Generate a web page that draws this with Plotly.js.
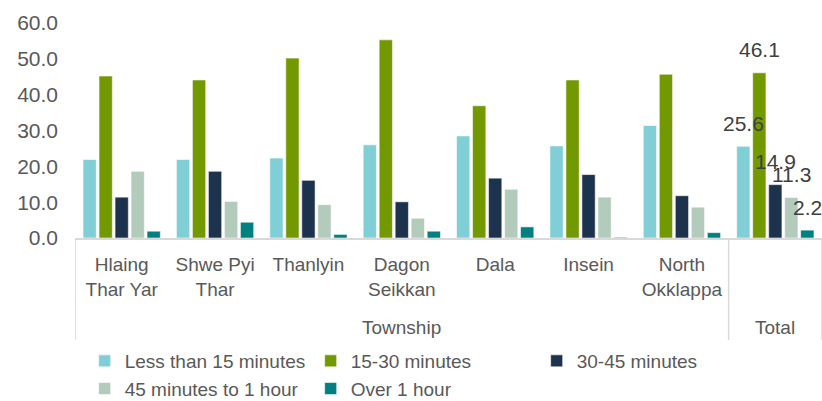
<!DOCTYPE html>
<html>
<head>
<meta charset="utf-8">
<script src="https://cdn.plot.ly/plotly-3.0.1.min.js"></script>
<style>
  html, body { margin: 0; padding: 0; background: #ffffff; }
  #chart { width: 822px; height: 401px; }
</style>
</head>
<body>
<div id="chart"></div>
<script>
// Travel time to work, share of respondents (%) by township
const categories = ["Hlaing Thar Yar", "Shwe Pyi Thar", "Thanlyin", "Dagon Seikkan", "Dala", "Insein", "North Okklappa", "Total"];
const tickLabels = ["Hlaing<br>Thar Yar", "Shwe Pyi<br>Thar", "Thanlyin", "Dagon<br>Seikkan", "Dala", "Insein", "North<br>Okklappa", ""];
const groups = ["Township", "Township", "Township", "Township", "Township", "Township", "Township", "Total"];

const seriesNames = ["Less than 15 minutes", "15-30 minutes", "30-45 minutes", "45 minutes to 1 hour", "Over 1 hour"];
const lessThan15 = [21.9, 21.9, 22.3, 26.0, 28.5, 25.7, 31.4, 25.6];
const from15to30 = [45.2, 44.1, 50.2, 55.3, 36.9, 44.1, 45.7, 46.1];
const from30to45 = [11.4, 18.6, 16.1, 10.1, 16.7, 17.7, 11.8, 14.9];
const from45to60 = [18.6, 10.2, 9.3, 5.5, 13.6, 11.4, 8.6, 11.3];
const over1hour  = [1.9, 4.4, 1.0, 1.9, 3.1, 0.2, 1.5, 2.2];
const seriesValues = [lessThan15, from15to30, from30to45, from45to60, over1hour];
const seriesColors = ["#80cfd6", "#739900", "#1d334d", "#b2cbbb", "#008080"];

const W = 822, H = 401;
const M = { l: 75, r: 0, t: 23, b: 163 };
const BARGAP = 0.143;
const plotW = W - M.l - M.r;
const plotH = H - M.t - M.b;

const traces = seriesValues.map((vals, i) => ({
  type: "bar",
  name: seriesNames[i],
  x: categories,
  y: vals,
  marker: { color: seriesColors[i], line: { color: "rgba(255,255,255,0.7)", width: 0.8 } },
  hoverinfo: "name+y"
}));

// Value labels for the "Total" group, centred above each bar
const totalIdx = categories.indexOf("Total");
const slotPx = (plotW / categories.length) * (1 - BARGAP) / seriesValues.length;
const annotations = seriesValues.map((vals, i) => ({
  x: categories[totalIdx], xref: "x",
  y: vals[totalIdx], yref: "y",
  text: vals[totalIdx].toFixed(1),
  showarrow: false,
  xanchor: "center", yanchor: "middle",
  xshift: (i - (seriesValues.length - 1) / 2) * slotPx,
  yshift: 23,
  font: { family: "Liberation Sans, Arial, sans-serif", size: 21, color: "#404040" }
}));

// Outer group labels (Township / Total) and the dividers between them
const groupNames = [...new Set(groups)];
const dividerDepth = 102; // px below the axis line
groupNames.forEach(g => {
  const idx = groups.map((v, k) => v === g ? k : -1).filter(k => k >= 0);
  const centre = (idx[0] + idx[idx.length - 1]) / 2;
  annotations.push({
    x: centre, xref: "x", y: 0, yref: "paper",
    yanchor: "middle", xanchor: "center", yshift: -89,
    text: g, showarrow: false,
    font: { family: "Liberation Sans, Arial, sans-serif", size: 19, color: "#595959" }
  });
});
const boundaries = [-0.5];
groups.forEach((g, k) => { if (k > 0 && g !== groups[k - 1]) boundaries.push(k - 0.5); });
boundaries.push(categories.length - 0.5);
const shapes = boundaries.map(b => ({
  type: "line", xref: "x", yref: "paper",
  x0: b, x1: b, y0: 0, y1: -dividerDepth / plotH,
  line: { color: "#d9d9d9", width: 1.5 }
}));

const layout = {
  width: W, height: H,
  margin: M,
  paper_bgcolor: "#ffffff",
  plot_bgcolor: "#ffffff",
  barmode: "group",
  bargap: BARGAP,
  bargroupgap: 0.17,
  font: { family: "Liberation Sans, Arial, sans-serif", color: "#595959" },
  xaxis: {
    type: "category",
    range: [-0.5, categories.length - 0.5],
    tickvals: categories,
    ticktext: tickLabels,
    ticks: "",
    ticklabelstandoff: 9,
    tickfont: { size: 19, color: "#595959" },
    showline: true, linecolor: "#d9d9d9", linewidth: 1.5,
    showgrid: false, zeroline: false, fixedrange: true
  },
  yaxis: {
    range: [0, 60],
    tickvals: [0, 10, 20, 30, 40, 50, 60],
    tickformat: ".1f",
    ticks: "",
    ticklabelstandoff: 16,
    tickfont: { size: 21, color: "#595959" },
    showgrid: false, zeroline: false, showline: false, fixedrange: true
  },
  legend: {
    orientation: "h",
    xref: "container", yref: "container",
    x: 0.103, xanchor: "left",
    y: 1 - 342 / H, yanchor: "top",
    entrywidth: 181, entrywidthmode: "pixels",
    tracegroupgap: 0,
    font: { size: 19, color: "#595959" },
    traceorder: "normal",
    itemclick: false, itemdoubleclick: false
  },
  annotations: annotations,
  shapes: shapes,
  showlegend: true
};

Plotly.newPlot("chart", traces, layout, { displayModeBar: false, staticPlot: true });
</script>
</body>
</html>
